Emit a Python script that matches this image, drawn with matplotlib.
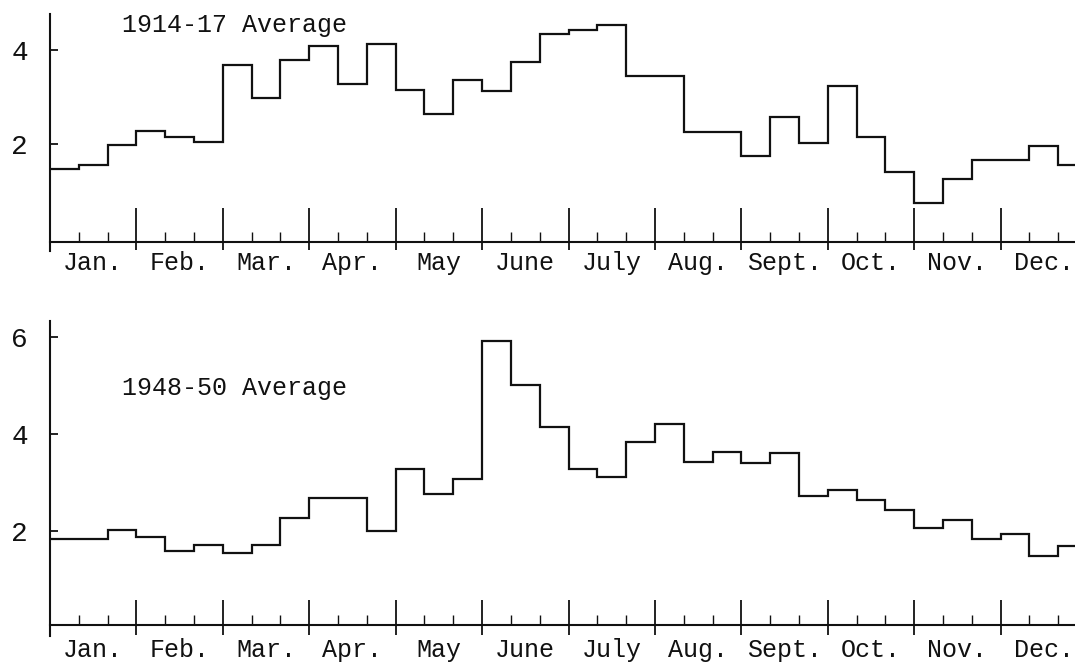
import numpy as np
import matplotlib
matplotlib.use("Agg")
import matplotlib.pyplot as plt

# ---- data (ten-day periods, 3 per month) ----
months = ["Jan.", "Feb.", "Mar.", "Apr.", "May", "June", "July",
          "Aug.", "Sept.", "Oct.", "Nov.", "Dec."]
avg_1914_17 = [1.47, 1.55, 1.98, 2.28, 2.16, 2.05, 3.68, 2.99, 3.80,
               4.09, 3.28, 4.14, 3.15, 2.65, 3.36, 3.13, 3.74, 4.34,
               4.43, 4.53, 3.45, 3.45, 2.26, 2.26, 1.75, 2.57, 2.03,
               3.24, 2.16, 1.40, 0.76, 1.27, 1.67, 1.67, 1.96, 1.56]
avg_1948_50 = [1.83, 1.83, 2.03, 1.88, 1.59, 1.71, 1.54, 1.71, 2.26,
               2.68, 2.68, 2.00, 3.27, 2.77, 3.07, 5.92, 5.02, 4.15,
               3.28, 3.11, 3.83, 4.21, 3.42, 3.62, 3.40, 3.61, 2.73,
               2.85, 2.64, 2.43, 2.06, 2.23, 1.83, 1.93, 1.49, 1.70]
top_yticks = [2, 4]
bottom_yticks = [2, 4, 6]
titles = ["1914-17 Average", "1948-50 Average"]

FONT = "Liberation Mono"
INK = "#111111"

W, H = 1075, 667
fig = plt.figure(figsize=(W / 100, H / 100), dpi=100)
fig.patch.set_facecolor("white")

n = len(avg_1914_17)
edges = np.arange(n + 1)
month_edges = np.arange(0, n + 1, 3)
month_centers = month_edges[:-1] + 1.5
dekad_ticks = [k for k in range(1, n) if k % 3 != 0]

left = 50 / W
width = 1037 / W

panels = [
    dict(values=avg_1914_17, yticks=top_yticks, title=titles[0],
         rect=[left, 0.6238, width, 0.3552], ylim=(-0.27, 4.77),
         base=-0.085, mt=(-0.26, 0.64), dt=0.13, pad=6,
         title_xy=(2.5, 4.53)),
    dict(values=avg_1948_50, yticks=bottom_yticks, title=titles[1],
         rect=[left, 0.0468, width, 0.4712], ylim=(-0.16, 6.32),
         base=0.06, mt=(-0.14, 0.58), dt=0.27, pad=9,
         title_xy=(2.5, 4.95)),
]

for p in panels:
    ax = fig.add_axes(p["rect"])
    ax.set_facecolor("white")
    ax.set_xlim(0, n)
    ax.set_ylim(*p["ylim"])
    for s in ("top", "right"):
        ax.spines[s].set_visible(False)
    ax.spines["left"].set_linewidth(1.5)
    ax.spines["left"].set_color(INK)
    ax.spines["bottom"].set_position(("data", p["base"]))
    ax.spines["bottom"].set_linewidth(1.5)
    ax.spines["bottom"].set_color(INK)

    # step line
    ax.stairs(p["values"], edges, baseline=None, color=INK, lw=1.6)

    # month boundary ticks and ten-day ticks
    ax.vlines(month_edges[1:-1], p["mt"][0], p["mt"][1], color=INK, lw=1.3)
    ax.vlines(dekad_ticks, p["base"], p["dt"], color=INK, lw=1.0)

    # y axis
    ax.set_yticks(p["yticks"])
    ax.set_yticklabels([str(v) for v in p["yticks"]], fontsize=20,
                       family=FONT)
    ax.tick_params(axis="y", direction="in", length=6, width=1.3,
                   color=INK, pad=16, labelcolor=INK)

    # month labels
    ax.set_xticks(month_centers)
    ax.set_xticklabels(months, fontsize=18, family=FONT)
    ax.tick_params(axis="x", length=0, pad=p["pad"], labelcolor=INK)

    ax.text(p["title_xy"][0], p["title_xy"][1], p["title"], fontsize=18,
            family=FONT, color=INK, ha="left", va="center")

fig.savefig("out.png", dpi=100, facecolor="white")
